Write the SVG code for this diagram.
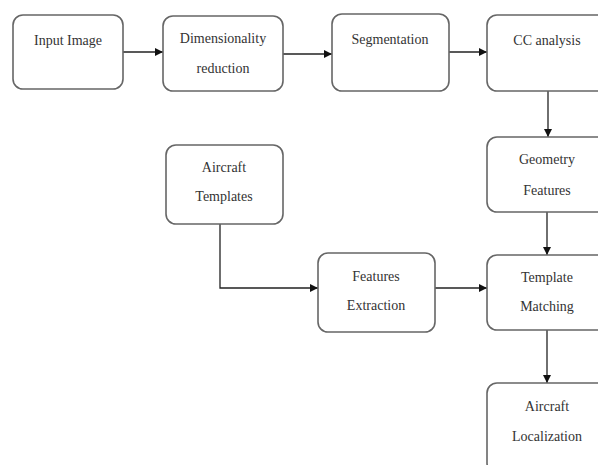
<svg xmlns="http://www.w3.org/2000/svg" width="598" height="465" viewBox="0 0 598 465">
<style>
.box{fill:#fff;stroke:#666;stroke-width:1.6}
.t{font-family:"Liberation Serif",serif;font-size:14px;fill:#333;text-anchor:middle}
.c{fill:none;stroke:#222;stroke-width:1.3}
</style>
<defs>
<marker id="a" viewBox="0 0 10 10" refX="10" refY="5" markerWidth="8" markerHeight="8" markerUnits="userSpaceOnUse" orient="auto">
<path d="M0,0 L10,5 L0,10 z" fill="#111"/>
</marker>
</defs>
<rect width="598" height="465" fill="#fff"/>
<g id="connectors">
<path class="c" d="M123,52 H163" marker-end="url(#a)"/>
<path class="c" d="M283,54 H332" marker-end="url(#a)"/>
<path class="c" d="M449,52 H487" marker-end="url(#a)"/>
<path class="c" d="M548,91 V137" marker-end="url(#a)"/>
<path class="c" d="M547,212 V255" marker-end="url(#a)"/>
<path class="c" d="M220,224 V288 H318" marker-end="url(#a)"/>
<path class="c" d="M435,288 H487" marker-end="url(#a)"/>
<path class="c" d="M547,330 V383" marker-end="url(#a)"/>
</g>
<g id="input-image"><rect class="box" x="13" y="15" width="110" height="74" rx="10"/><text class="t" x="68" y="45">Input Image</text></g>
<g id="dimensionality-reduction"><rect class="box" x="163" y="16" width="120" height="75" rx="10"/><text class="t" x="223" y="43">Dimensionality</text><text class="t" x="223" y="73">reduction</text></g>
<g id="segmentation"><rect class="box" x="332" y="14" width="117" height="77" rx="10"/><text class="t" x="390" y="44">Segmentation</text></g>
<g id="cc-analysis"><rect class="box" x="487" y="15" width="122" height="76" rx="10"/><text class="t" x="547" y="45">CC analysis</text></g>
<g id="geometry-features"><rect class="box" x="487" y="137" width="122" height="75" rx="10"/><text class="t" x="547" y="164">Geometry</text><text class="t" x="547" y="195">Features</text></g>
<g id="aircraft-templates"><rect class="box" x="166" y="145" width="117" height="79" rx="10"/><text class="t" x="224" y="172">Aircraft</text><text class="t" x="224" y="201">Templates</text></g>
<g id="features-extraction"><rect class="box" x="318" y="253" width="117" height="79" rx="10"/><text class="t" x="376" y="281">Features</text><text class="t" x="376" y="310">Extraction</text></g>
<g id="template-matching"><rect class="box" x="487" y="255" width="122" height="75" rx="10"/><text class="t" x="547" y="282">Template</text><text class="t" x="547" y="311">Matching</text></g>
<g id="aircraft-localization"><rect class="box" x="487" y="383" width="122" height="90" rx="10"/><text class="t" x="547" y="411">Aircraft</text><text class="t" x="547" y="441">Localization</text></g>
</svg>
